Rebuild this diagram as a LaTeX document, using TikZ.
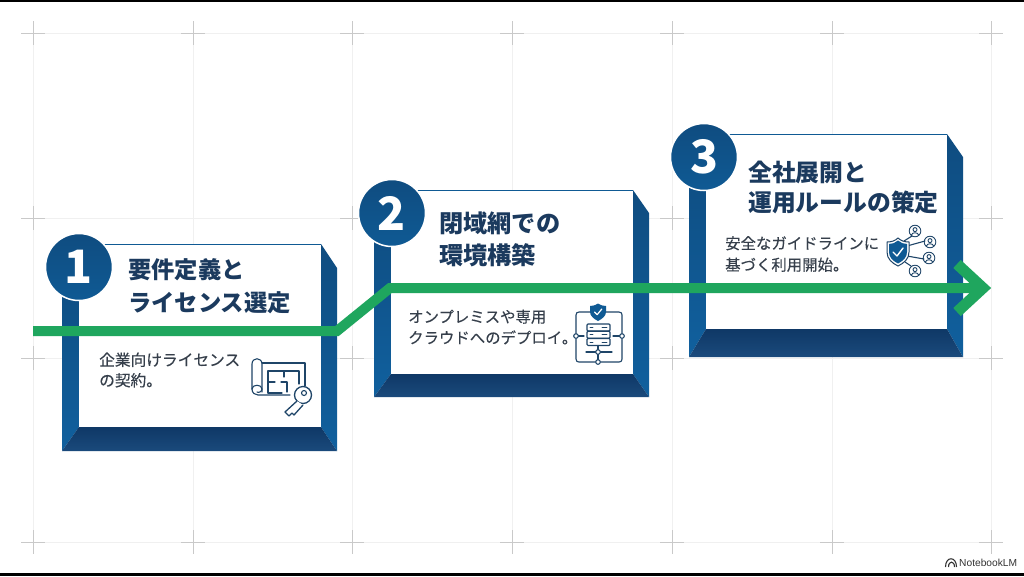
\documentclass[tikz,border=0pt]{standalone}
\usepackage{fontspec}
\setmainfont{Noto Sans CJK JP}
\newfontfamily\bodycjk[FakeBold=0.2]{Noto Sans CJK JP}
\newfontfamily\latinfont{Liberation Sans}
\definecolor{bandblue}{HTML}{0F5A94}
\definecolor{bandtop}{HTML}{0F4C80}
\definecolor{bandlow}{HTML}{10609E}
\definecolor{banddark}{HTML}{0F3866}
\definecolor{banddeep}{HTML}{1A4A7C}
\definecolor{titleink}{HTML}{1B3A5E}
\definecolor{bodyink}{HTML}{363F4B}
\definecolor{routegreen}{HTML}{1FA65E}
\definecolor{gridfaint}{HTML}{F0F0F0}
\definecolor{gridcross}{HTML}{C9C9C9}
\definecolor{iconink}{HTML}{1F4568}
\tikzset{
  x=1pt,y=-1pt,
  gridline/.style={draw=gridfaint,line width=0.8},
  crossline/.style={draw=gridcross,line width=0.8},
  titletext/.style 2 args={anchor=west,inner sep=0,align=left,text=titleink,font=\fontsize{#1}{#2}\selectfont\bfseries},
  bodytext/.style 2 args={anchor=west,inner sep=0,align=left,text=bodyink,font=\fontsize{#1}{#2}\selectfont\bodycjk},
  badge/.style={circle,top color=bandtop,bottom color=bandblue,draw=white,line width=1.5,minimum size=67,inner sep=0,text=white,font=\fontsize{46}{46}\selectfont\bfseries},
  route/.style={draw=routegreen,line width=10,miter limit=10},
  routehead/.style={draw=routegreen,line width=11,miter limit=10},
  iconline/.style={draw=iconink,line width=1.1,line cap=round,line join=round},
  iconfill/.style={fill=white,draw=iconink,line width=1},
  tick/.style={draw=white,line width=1.2,line cap=round,line join=round},
}
\newcommand{\crossat}[2]{\draw[crossline] (#1-12,#2) -- (#1+12,#2) (#1,#2-12) -- (#1,#2+12);}
% card: left, top, right, bottom outer; inner left, inner right, inner bottom, corner y
\newcommand{\cardshape}[8]{%
  \shade[top color=bandtop,bottom color=bandlow] (#1,#2+18) -- (#5,#2+18) -- (#5,#7) -- (#1,#4) -- cycle;
  \shade[top color=bandtop,bottom color=bandlow] (#6,#2) -- (#3,#8) -- (#3,#4) -- (#6,#7) -- cycle;
  \shade[top color=banddark,bottom color=banddeep] (#5,#7) -- (#6,#7) -- (#3,#4) -- (#1,#4) -- cycle;
  \fill[white] (#5,#2) rectangle (#6,#7);
  \draw[bandblue,line width=0.8] (#5,#2) -- (#6,#2);
}
\newcommand{\personicon}[2]{%
  \draw[iconline,line width=0.9] (#1,#2) circle (5.8);
  \draw[iconline,line width=0.9] (#1,#2-1.4) circle (2);
  \draw[iconline,line width=0.9] (#1-3.6,#2+4) .. controls (#1-3,#2+1) and (#1+3,#2+1) .. (#1+3.6,#2+4);
}
\newcommand{\smalldot}[2]{\filldraw[iconline,fill=white] (#1,#2) circle (2.3);}
\begin{document}
\begin{tikzpicture}
\useasboundingbox (0,0) rectangle (1024,576);
\fill[white] (0,0) rectangle (1024,576);
% grid
\foreach \gx in {33,193,352,512,672,832,991} \draw[gridline] (\gx,33) -- (\gx,542);
\foreach \gy in {33,218,358,542} \draw[gridline] (33,\gy) -- (991,\gy);
\foreach \gx in {33,193,352,512,672,832,991} {\crossat{\gx}{33}\crossat{\gx}{542}}
\foreach \gx in {33,352,672,991} {\crossat{\gx}{218}\crossat{\gx}{358}}
% frame bars
\fill[black] (0,0) rectangle (1024,2);
\fill[black] (0,573) rectangle (1024,576);
% cards
\cardshape{62}{244}{337}{451}{79}{321}{427}{268}
\cardshape{374}{190}{649}{397}{391}{633}{374}{213}
\cardshape{689}{134}{963}{357}{706}{947}{329}{157}
% badges
\node[badge] (b1) at (79,267) {1};
\node[badge] (b2) at (392,213) {2};
\node[badge] (b3) at (704,157) {3};
% titles
\node[titletext={23.3}{33}] (t1) at (128,286.5) {要件定義と\\ライセンス選定};
\node[titletext={24.2}{32}] (t2) at (439,239) {閉域網での\\環境構築};
\node[titletext={23.8}{30}] (t3) at (748,187) {全社展開と\\運用ルールの策定};
% body
\node[bodytext={15.7}{20.5}] (d1) at (99,370) {企業向けライセンス\\の契約。};
\node[bodytext={15.4}{21}] (d2) at (408,327) {オンプレミスや専用\\クラウドへのデプロイ。};
\node[bodytext={15.4}{21.5}] (d3) at (725,254) {安全なガイドラインに\\基づく利用開始。};
% icon 1
\draw[iconline] (262,363) -- (305,363) -- (305,386);
\draw[iconline] (262,392) -- (262,364) .. controls (262,357) and (252,357) .. (252,364) -- (252,389);
\draw[iconline] (252,389) .. controls (252,384) and (262,384) .. (262,389) .. controls (262,392) and (258,393) .. (257,392);
\draw[iconline] (252,389) .. controls (252,393) and (255,395) .. (258,395) -- (290,395);
\draw[iconline] (268,393) -- (268,371) -- (299,371) -- (299,384);
\draw[iconline] (268,382) -- (275,382) (281,382) -- (287,382) -- (287,392) (284,371) -- (284,377) (268,393) -- (282,393);
\draw[iconline,line width=1.3,fill=white] (303,395) circle (8.5);
\draw[iconline] (304,393) circle (2.5);
\draw[iconline,line width=1.3,fill=white] (297,401) -- (285,412) -- (289,416) -- (292,413) -- (294,415) -- (303,405);
% icon 2
\draw[iconline] (590,312) -- (579,312) .. controls (577,312) and (576,313) .. (576,315) -- (576,333);
\draw[iconline] (606,312) -- (619,312) .. controls (621,312) and (622,313) .. (622,315) -- (622,333);
\draw[iconline] (576,339) -- (576,359) .. controls (576,361) and (577,362) .. (579,362) -- (595,362);
\draw[iconline] (622,339) -- (622,359) .. controls (622,361) and (621,362) .. (619,362) -- (601,362);
\foreach \sy in {324,331.2,338.4} {
  \draw[iconline,line width=1.2,rounded corners=1] (587,\sy) rectangle (610,\sy+7);
  \draw[iconline,line width=0.8] (590,\sy+3.5) -- (593,\sy+3.5) (602,\sy+3.5) -- (607,\sy+3.5);
}
\draw[iconline] (578,336) -- (584,336) (613,336) -- (620,336) (598,345.5) -- (598,360) (586,352) -- (612,352);
\smalldot{576}{336}\smalldot{622}{336}\smalldot{598}{352}\smalldot{598}{362}
\fill[bandblue] (598,303.5) .. controls (601,305.5) and (604,306) .. (606,306) -- (606,312) .. controls (606,316) and (602,319) .. (598,321) .. controls (594,319) and (590,316) .. (590,312) -- (590,306) .. controls (592,306) and (595,305.5) .. (598,303.5) -- cycle;
\draw[tick] (594.5,312) -- (597.2,314.6) -- (601.8,309);
% icon 3
\draw[iconline] (907,246) -- (925,241) (907,256) -- (924,259) (904,241) -- (912,236) (905,262) -- (911,266);
\draw[iconfill] (898,238) .. controls (901,241) and (905,242) .. (909,242) -- (909,252) .. controls (909,259) and (904,263) .. (898,266) .. controls (892,263) and (887,259) .. (887,252) -- (887,242) .. controls (891,242) and (895,241) .. (898,238) -- cycle;
\fill[bandblue] (898,240.5) .. controls (900.5,243) and (904,244) .. (907,244) -- (907,252) .. controls (907,257.5) and (903,261) .. (898,263.5) .. controls (893,261) and (889,257.5) .. (889,252) -- (889,244) .. controls (892,244) and (895.5,243) .. (898,240.5) -- cycle;
\draw[tick,line width=1.4] (893,252) -- (897,256) -- (903,248);
\personicon{915}{231}\personicon{930}{242}\personicon{929}{258}\personicon{915}{271}
% route
\coordinate (r0) at (33,331);
\coordinate (r1) at (337,331);
\coordinate (r2) at (390,288);
\coordinate (r3) at (983,288);
\coordinate (h1) at (957,264);
\coordinate (h2) at (957,312);
\draw[route] (r0) -- (r1) -- (r2) -- (r3);
\draw[routehead] (h1) -- (r3) -- (h2);
% logo
\node[anchor=west,inner sep=0,text=black!80,font=\fontsize{10.2}{10}\selectfont\latinfont] (logo) at (959,563) {NotebookLM};
\draw[black!80,line width=1.1] (945.5,567) .. controls (945.5,556) and (956.5,556) .. (956.5,567);
\draw[black!80,line width=1.1] (948.5,567) .. controls (948.5,560.5) and (954.5,560.5) .. (954.5,567);
\end{tikzpicture}
\end{document}
